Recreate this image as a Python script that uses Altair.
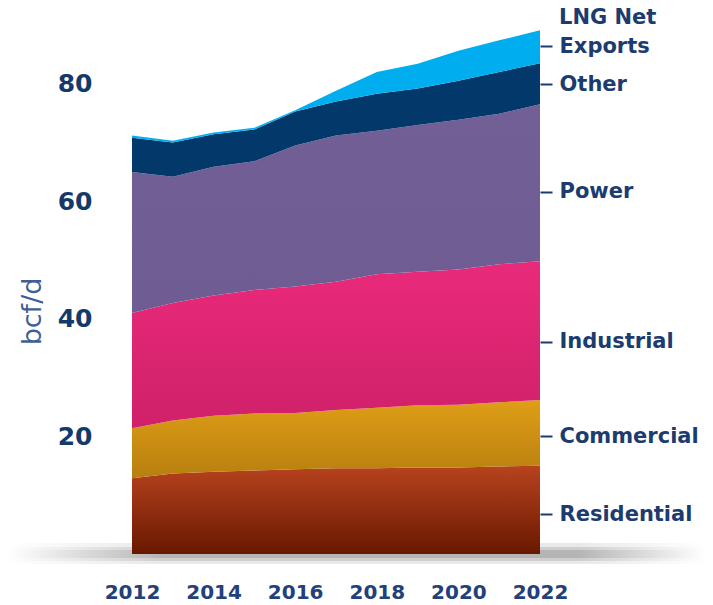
import altair as alt
import pandas as pd

years = list(range(2012, 2023))
series = ["Residential", "Commercial", "Industrial", "Power", "Other", "LNG Net Exports"]
residential = [12.9, 13.7, 14.0, 14.2, 14.4, 14.6, 14.6, 14.7, 14.7, 14.9, 15.0]
commercial = [8.5, 9.0, 9.5, 9.7, 9.6, 9.9, 10.3, 10.6, 10.7, 10.9, 11.2]
industrial = [19.6, 20.0, 20.5, 21.0, 21.5, 21.8, 22.7, 22.7, 23.0, 23.5, 23.6]
power = [24.0, 21.5, 21.9, 21.9, 24.0, 24.9, 24.4, 25.0, 25.5, 25.6, 26.7]
other = [5.8, 5.8, 5.5, 5.4, 5.8, 5.8, 6.3, 6.2, 6.6, 7.1, 7.0]
lng = [0.4, 0.3, 0.3, 0.3, 0.2, 1.8, 3.7, 4.2, 5.1, 5.4, 5.6]

label_names = ["Residential", "Commercial", "Industrial", "Power", "Other", "Exports"]
label_values = [6.8, 20.0, 36.1, 61.6, 79.9, 86.4]
label_top = "LNG Net"
y_ticks = [20, 40, 60, 80]
x_ticks = [2012, 2014, 2016, 2018, 2020, 2022]

top_colors = ["#b8431e", "#df9e17", "#ea2a7b", "#725f96", "#03386a", "#00aeef"]
bottom_colors = ["#681800", "#b77f0e", "#cf2169", "#6e5c92", "#03386a", "#00aeef"]

values = [residential, commercial, industrial, power, other, lng]
rows = []
for i, (name, vals) in enumerate(zip(series, values)):
    for yr, v in zip(years, vals):
        rows.append({"year": yr, "series": name, "value": v, "order": i})
df = pd.DataFrame(rows)

FONT = "DejaVu Sans"
NAVY = "#1c3c70"

ysc = alt.Scale(domain=[0, 90], nice=False)
x_axis = alt.Axis(values=x_ticks, format="d", labelFont=FONT, labelFontSize=20,
                  labelFontWeight="bold", labelColor="#22407a", ticks=False, tickSize=0,
                  domain=False, grid=False, labelPadding=38, labelBaseline="middle",
                  labelFlush=False, title=None)
x_enc = alt.X("year:Q", scale=alt.Scale(domain=[2012, 2022], nice=False), axis=x_axis)

left_axis = alt.Axis(values=y_ticks, labelFont=FONT, labelFontSize=25, labelFontWeight="bold",
                     labelColor="#133a6a", ticks=False, domain=False, grid=False,
                     labelPadding=40, title="bcf/d", titleFont=FONT, titleFontSize=27,
                     titleFontWeight="normal", titleColor="#3f5f94", titleX=-100, titleY=286,
                     titleAngle=-90, titleAlign="center", titleBaseline="middle")

expr = "''"
for n, v in reversed(list(zip(label_names, label_values))):
    expr = f"datum.value == {v} ? '{n}' : " + expr
right_axis = alt.Axis(orient="right", values=label_values, labelExpr=expr, tickSize=12,
                      tickWidth=2, tickColor=NAVY, domain=False, grid=False, labelPadding=7,
                      labelFont=FONT, labelFontSize=21, labelFontWeight="bold",
                      labelColor=NAVY, labelOverlap=False, labelAlign="left", title=None)

layers = []

# baseline shadow
shadow_df = pd.DataFrame({"k": [0]})
for (ya, yb, op) in [(518, 539, 0.2), (522, 536, 0.3), (525, 533, 0.4)]:
    grad_h = alt.Gradient(gradient="linear", x1=0, y1=0, x2=1, y2=0,
                          stops=[alt.GradientStop(offset=0, color="#ffffff"),
                                 alt.GradientStop(offset=0.22, color="#909090"),
                                 alt.GradientStop(offset=0.82, color="#909090"),
                                 alt.GradientStop(offset=1, color="#ffffff")])
    layers.append(alt.Chart(shadow_df).mark_rect(color=grad_h, opacity=op).encode(
        x=alt.value(-124), x2=alt.value(573), y=alt.value(ya), y2=alt.value(yb)))

for i, name in enumerate(series):
    grad = alt.Gradient(gradient="linear", x1=0, y1=0, x2=0, y2=1,
                        stops=[alt.GradientStop(offset=0, color=top_colors[i]),
                               alt.GradientStop(offset=1, color=bottom_colors[i])])
    if i == 0:
        ax = left_axis
    elif i == len(series) - 1:
        ax = right_axis
    else:
        ax = None
    layer = (alt.Chart(df)
             .transform_stack(stack="value", groupby=["year"], as_=["y0", "y1"],
                              sort=[alt.SortField("order", order="ascending")])
             .transform_filter(alt.datum.series == name)
             .mark_area(color=grad, interpolate="linear")
             .encode(x=x_enc, y=alt.Y("y1:Q", scale=ysc, axis=ax), y2="y0:Q"))
    layers.append(layer)

lbl_df = pd.DataFrame({"year": [years[-1]], "pos": [label_values[-1]], "text": [label_top]})
layers.append(alt.Chart(lbl_df).mark_text(align="left", baseline="middle", dx=19, dy=-28,
                                           font=FONT, fontSize=21, fontWeight="bold",
                                           color=NAVY)
              .encode(x=x_enc, y=alt.Y("pos:Q", scale=ysc, axis=None), text="text:N"))

chart = (alt.layer(*layers)
         .resolve_axis(y="independent")
         .properties(width=408, height=529, background="white",
                     autosize=alt.AutoSizeParams(type="none"),
                     padding={"left": 124, "top": 17, "right": 165, "bottom": 51})
         .configure_view(stroke=None))

chart.save("out.html", embed_options={"renderer": "svg", "actions": False})
